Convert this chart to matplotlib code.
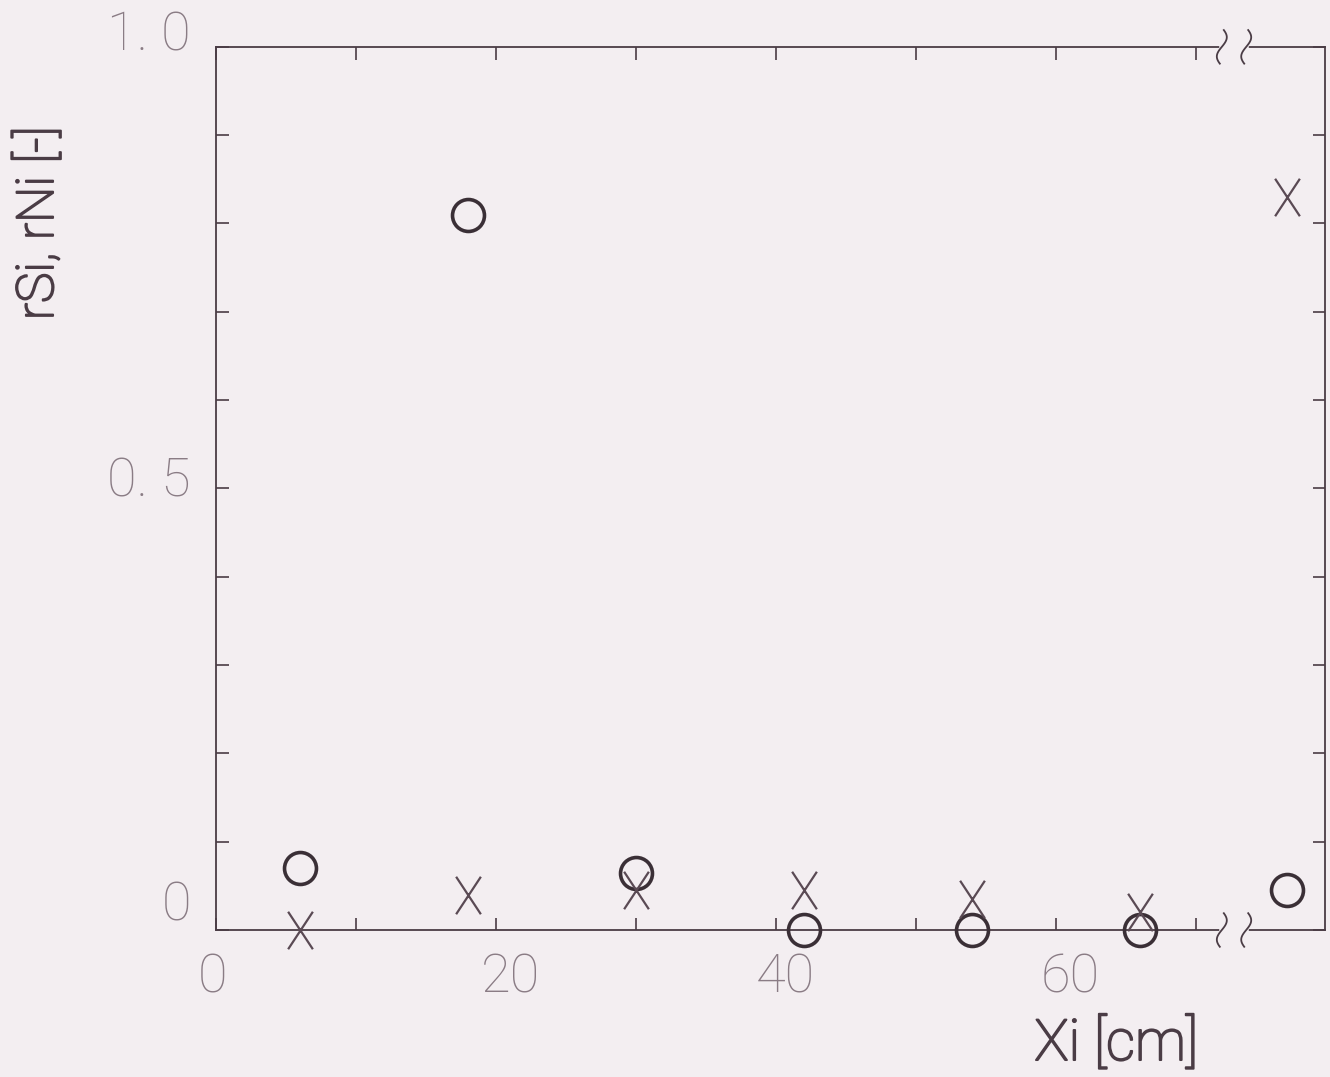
import numpy as np
import matplotlib
matplotlib.use('Agg')
import matplotlib.pyplot as plt
import matplotlib.patheffects as pe
from matplotlib.path import Path
from matplotlib.transforms import ScaledTranslation

# 数据: 位置 Xi 与 rSi (圆点), rNi (叉号)
xi_si = [6, 18, 30, 42, 54, 66, 76.5]
r_si = [0.07, 0.81, 0.065, 0.0, 0.0, 0.0, 0.045]
xi_ni = [6, 18, 30, 42, 54, 66, 76.5]
r_ni = [0.0, 0.04, 0.045, 0.045, 0.035, 0.02, 0.83]

x_ticks = [0, 20, 40, 60]
x_ticklabels = ['0', '20', '40', '60']
y_ticks = [0, 0.5, 1.0]
y_ticklabels = ['0', '0. 5', '1. 0']

bg = '#f3eef1'
ink = '#4a3c45'
grey = '#8a7c85'

plt.rcParams['font.family'] = ['Roboto', 'DejaVu Sans']

fig = plt.figure(figsize=(13.3, 10.77), dpi=100, facecolor=bg)
ax = fig.add_axes([0.1624, 0.1365, 0.8338, 0.82])
ax.set_facecolor(bg)

# 高瘦的 X 形标记
xm = Path([(-0.33, -0.5), (0.33, 0.5), (-0.33, 0.5), (0.33, -0.5)],
          [Path.MOVETO, Path.LINETO, Path.MOVETO, Path.LINETO])

ax.plot(xi_si, r_si, 'o', ms=23, mfc='none', mec='#3a2f36', mew=2.6, clip_on=False, zorder=4)
ax.plot(xi_ni, r_ni, ls='none', marker=xm, ms=27, mec='#5a4a54', mew=1.6, clip_on=False, zorder=5)

ax.set_xlim(0, 79.2)
ax.set_ylim(0, 1.0)

ax.set_xticks(x_ticks)
ax.set_xticklabels(x_ticklabels)
ax.set_xticks([10, 30, 50, 70], minor=True)
ax.set_yticks(y_ticks)
ax.set_yticklabels(y_ticklabels)
ax.set_yticks([0.1, 0.2, 0.3, 0.4, 0.6, 0.7, 0.8, 0.9], minor=True)

ax.tick_params(which='both', direction='in', top=True, right=True, color=ink, width=1.2, length=9)
ax.tick_params(which='major', labelsize=39, labelcolor=grey, pad=16)
for lab in ax.get_xticklabels() + ax.get_yticklabels():
    lab.set_fontweight(100)

# 刻度文字的微调
for lab, dy in zip(ax.get_yticklabels(), [0.3, 0.12, 0.17]):
    lab.set_transform(lab.get_transform() + ScaledTranslation(-0.03, dy, fig.dpi_scale_trans))
for lab, dx in zip(ax.get_xticklabels(), [-0.03, 0.14, 0.09, 0.14]):
    lab.set_transform(lab.get_transform() + ScaledTranslation(dx, 0, fig.dpi_scale_trans))

for s in ax.spines.values():
    s.set_color(ink)
    s.set_linewidth(1.3)

# 横轴断裂符号
xc0, xc1 = 0.907, 0.929
for yb in (0.0, 1.0):
    ax.plot([xc0, xc1], [yb, yb], color=bg, lw=4, transform=ax.transAxes,
            clip_on=False, zorder=3)
    t = np.linspace(-1, 1, 40)
    for xc in (xc0, xc1):
        ax.plot(xc - 0.0045 * np.sin(t * np.pi / 1.15), yb - 0.019 * t, color=ink, lw=1.3,
                transform=ax.transAxes, clip_on=False, zorder=4)

# 轴标题: 细体加描边, 线条稍粗一些
thick = [pe.withStroke(linewidth=1.4, foreground=ink)]
ax.set_xlabel('Xi [cm]', fontsize=41, color=ink, fontweight='light', path_effects=thick)
ax.xaxis.set_label_coords(0.812, -0.098)
ax.set_ylabel('rSi, rNi [-]', fontsize=37, color=ink, fontweight='light', path_effects=thick)
ax.yaxis.set_label_coords(-0.137, 0.80)

fig.savefig('out.png', dpi=100, facecolor=bg)
